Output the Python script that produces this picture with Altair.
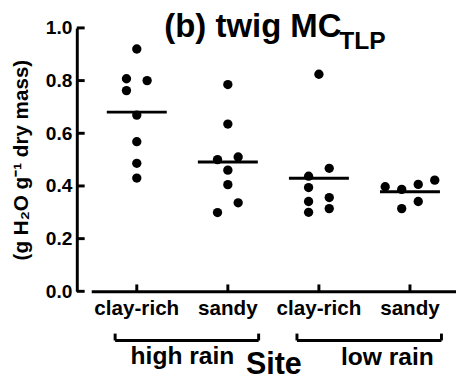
import altair as alt
import pandas as pd

# ---- data ----
site_keys = ["HC", "HS", "LC", "LS"]
site_labels = ["clay-rich", "sandy", "clay-rich", "sandy"]

hc_vals = [0.92, 0.807, 0.80, 0.762, 0.669, 0.568, 0.486, 0.43]
hc_slot = [0, -1.25, 1.25, -1.25, 0, 0, 0, 0]
hs_vals = [0.785, 0.635, 0.51, 0.50, 0.46, 0.405, 0.336, 0.299]
hs_slot = [0, 0, 1.25, -1.25, 0, 0, 1.25, -1.25]
lc_vals = [0.824, 0.467, 0.437, 0.394, 0.356, 0.341, 0.314, 0.30]
lc_slot = [0, 1.25, -1.25, -1.25, 1.25, -1.25, 1.25, -1.25]
ls_vals = [0.422, 0.406, 0.397, 0.387, 0.341, 0.314]
ls_slot = [3, 1, -3, -1, 1, -1]

y_ticks = [0.0, 0.2, 0.4, 0.6, 0.8, 1.0]

rows = []
for k, vals, slots in zip(site_keys, [hc_vals, hs_vals, lc_vals, ls_vals],
                          [hc_slot, hs_slot, lc_slot, ls_slot]):
    for v, s in zip(vals, slots):
        rows.append({"site": k, "value": v, "slot": s})
df = pd.DataFrame(rows)
sites_df = pd.DataFrame({"site": site_keys})
yt_df = pd.DataFrame({"v": y_ticks})

W, H = 397, 268
FONT = "Liberation Sans"

label_expr = "[%s][indexof([%s], datum.value)]" % (
    ",".join("'%s'" % s for s in site_labels),
    ",".join("'%s'" % s for s in site_keys),
)

xscale = alt.Scale(domain=site_keys, range=[14.7, 385.3], paddingInner=0, paddingOuter=0)
yscale = alt.Scale(domain=[0, 1], nice=False, zero=True)

x_enc = alt.X("site:N", scale=xscale, sort=site_keys,
              axis=alt.Axis(title=None, labelExpr=label_expr, labelFontSize=21,
                            labelPadding=7, labelAngle=0))
y_axis = alt.Axis(values=y_ticks, format=".1f", labelFontSize=19.5, labelPadding=5,
                  title="(g H\u2082O g\u207b\u00b9 dry mass)", titleFontSize=21,
                  titleFontWeight="bold", titleX=-50, titleY=134, titleAngle=270,
                  titleBaseline="alphabetic", titleAlign="center", titleColor="black")

points = alt.Chart(df).mark_circle(size=90, color="black", opacity=1).encode(
    x=x_enc,
    xOffset=alt.XOffset("slot:Q", scale=alt.Scale(domain=[-3, 3], range=[21.13, 71.53])),
    y=alt.Y("value:Q", scale=yscale, axis=y_axis),
)

means = alt.Chart(df).mark_tick(size=61, thickness=3, color="black").encode(
    x=alt.X("site:N", scale=xscale, sort=site_keys),
    y=alt.Y("mean(value):Q", scale=yscale),
)

xticks = alt.Chart(sites_df).mark_rule(strokeWidth=3, color="black").encode(
    x=alt.X("site:N", scale=xscale, sort=site_keys),
    y=alt.value(H - 7), y2=alt.value(H),
)

yticks = alt.Chart(yt_df).mark_rule(strokeWidth=3, color="black").encode(
    y=alt.Y("v:Q", scale=yscale), x=alt.value(0), x2=alt.value(8),
)

def txt(t, x, y, size, align="left"):
    return alt.Chart(pd.DataFrame({"t": [t]})).mark_text(
        font=FONT, fontWeight="bold", fontSize=size, align=align,
        baseline="alphabetic", color="black").encode(
        x=alt.value(x), y=alt.value(y), text="t:N")

def rule(x1, x2, y1, y2):
    return alt.Chart(pd.DataFrame({"a": [0]})).mark_rule(
        strokeWidth=3, color="black").encode(
        x=alt.value(x1), x2=alt.value(x2), y=alt.value(y1), y2=alt.value(y2))

title1 = txt("(b) twig MC", 89, 9.5, 33.5)
title2 = txt("TLP", 267, 21, 25)
hr_text = txt("high rain", 107.5, 342, 25, "center")
lr_text = txt("low rain", 316, 343, 25, "center")
site_text = txt("Site", 200.5, 352, 31, "center")

brackets = [
    rule(39, 185, 318, 318), rule(39, 39, 311, 318), rule(185, 185, 311, 318),
    rule(224, 371, 318, 318), rule(224, 224, 311, 318), rule(371, 371, 311, 318),
]

chart = alt.layer(points, means, xticks, yticks, title1, title2, hr_text, lr_text,
                  site_text, *brackets).properties(
    width=W, height=H,
    autosize=alt.AutoSizeParams(type="none"),
    padding={"left": 70, "top": 17, "right": 0, "bottom": 89},
).configure_axis(
    domainColor="black", domainWidth=3, labelColor="black", labelFont=FONT,
    labelFontWeight="bold", titleFont=FONT, grid=False, ticks=False, tickSize=0,
).configure_view(stroke=None)

chart.save("out.html", embed_options={"renderer": "svg", "actions": False})
